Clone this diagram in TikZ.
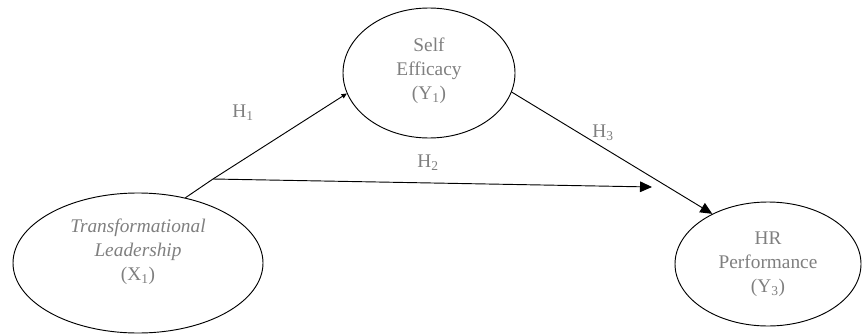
\documentclass[tikz,border=0pt]{standalone}
\usepackage{fontspec}
\setmainfont{Liberation Serif}
\usetikzlibrary{arrows.meta,shapes.geometric}
\definecolor{txtgray}{HTML}{7F7F7F}
\begin{document}
\begin{tikzpicture}[x=0.75pt,y=-0.75pt,
  ell/.style={draw, ellipse, line width=0.7pt, inner sep=0pt},
  lbl/.style={text=txtgray, align=center, font=\fontsize{14.5}{18}\selectfont},
  conn/.style={line width=0.7pt},
  arr/.style={conn, -{Triangle[length=9pt,width=8pt]}},
  smallarr/.style={conn, -{Triangle[length=4pt,width=3.5pt]}}]
\useasboundingbox (0,0) rectangle (862,335);
\node[ell, minimum width=250*0.75pt, minimum height=140*0.75pt] (TL) at (138,263) {};
\node[lbl] (TLtext) at (138,252) {\itshape Transformational\\ \itshape Leadership\\ (X\textsubscript{1})};
\node[ell, minimum width=172*0.75pt, minimum height=130*0.75pt] (SE) at (429,73) {};
\node[lbl] (SEtext) at (429,71) {Self\\ Efficacy\\ (Y\textsubscript{1})};
\node[ell, minimum width=186*0.75pt, minimum height=124*0.75pt] (HR) at (768,264) {};
\node[lbl] (HRtext) at (768,264) {HR\\ Performance\\ (Y\textsubscript{3})};
\coordinate (J) at (213,179);
\coordinate (E2) at (652,187);
\draw[conn] (TL.54) -- (J);
\draw[smallarr] (J) -- (SE.194);
\draw[arr] (J) -- (E2);
\draw[arr] (SE.-13) -- (HR.138);
\node[lbl] (H1) at (243,113) {H\textsubscript{1}};
\node[lbl] (H2) at (428,163) {H\textsubscript{2}};
\node[lbl] (H3) at (603,133) {H\textsubscript{3}};
\end{tikzpicture}
\end{document}
